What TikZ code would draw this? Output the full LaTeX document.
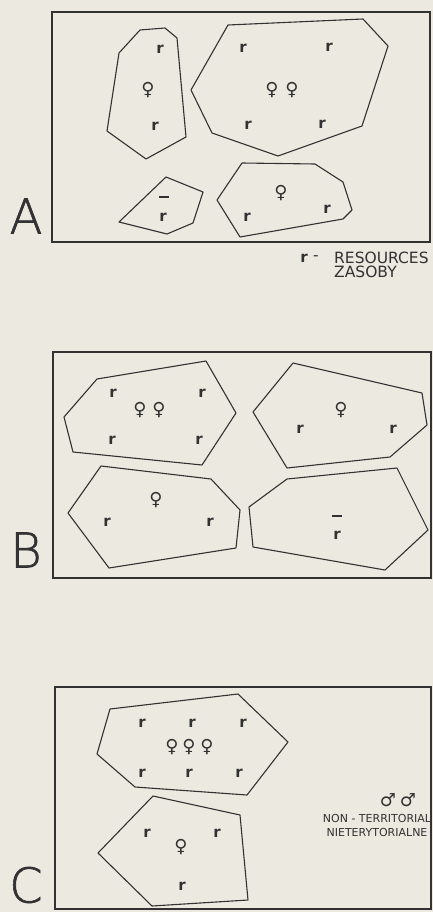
\documentclass[tikz,border=0pt]{standalone}
\usepackage{fontspec}
\setmainfont{DejaVu Sans}
\newfontfamily\tagfont[FakeBold=1.2]{DejaVuSans-ExtraLight.ttf}
\usetikzlibrary{positioning}

\definecolor{paper}{RGB}{236,233,225}
\definecolor{ink}{RGB}{50,50,50}

\tikzset{
	res/.style={font=\fontsize{15}{15}\selectfont\bfseries, text=ink, inner sep=0pt},
	fem/.style={font=\fontsize{18}{18}\selectfont, text=ink, inner sep=0pt},
	zone/.style={draw=ink, line width=1.1pt, line join=round},
	panel/.style={draw=ink, line width=2pt},
	bar/.style={draw=ink, line width=1.8pt},
	tag/.style={font=\tagfont\fontsize{48}{48}\selectfont, text=ink, inner sep=0pt},
	legend/.style={font=\fontsize{15.5}{15.5}\selectfont, text=ink, inner sep=0pt},
	small/.style={font=\fontsize{11}{11}\selectfont, text=ink, inner sep=0pt},
}

\begin{document}
\begin{tikzpicture}[x=1pt, y=-1pt]

	\fill[paper] (0,0) rectangle (433,912);
	\useasboundingbox (0,0) rectangle (433,912);

	% panel A
	\draw[panel] (52,12) rectangle (430,242);
	\node[tag] (A) at (26,216) {A};
	\draw[zone] (140,30) -- (165,28) -- (177,38) -- (186,137) -- (146,159) -- (107,131) -- (119,53) -- cycle;
	\draw[zone] (228,25) -- (363,19) -- (388,46) -- (362,126) -- (278,156) -- (212,133) -- (191,90) -- cycle;
	\draw[zone] (166,177) -- (203,192) -- (193,223) -- (167,234) -- (119,222) -- cycle;
	\draw[zone] (242,163) -- (315,164) -- (343,182) -- (352,210) -- (343,219) -- (240,237) -- (217,200) -- cycle;

	\node[res] (rA1) at (160,49) {r};
	\node[fem] (fA1) at (148,90) {♀};
	\node[res] (rA2) at (155,126) {r};
	\node[res] (rA3) at (243,48) {r};
	\node[res] (rA4) at (329,47) {r};
	\node[fem] (fA2) at (272,90) {♀};
	\node[fem, right=20pt of fA2.center, anchor=center] (fA3) {♀};
	\node[res] (rA5) at (248,125) {r};
	\node[res] (rA6) at (322,124) {r};
	\draw[bar] (159,197) -- (169,197);
	\node[res] (rA7) at (163,217) {r};
	\node[fem] (fA4) at (281,193) {♀};
	\node[res] (rA8) at (247,217) {r};
	\node[res] (rA9) at (327,209) {r};

	% legend
	\node[res] (key) at (304,258) {r};
	\node[legend] (dash) at (316,258) {-};
	\node[legend, anchor=west] (resources) at (334,258) {RESOURCES};
	\node[legend, below=8pt of resources.west, anchor=north west] (zasoby) {ZASOBY};

	% panel B
	\draw[panel] (53,352) rectangle (431,578);
	\node[tag] (B) at (26,550) {B};
	\draw[zone] (97,379) -- (206,361) -- (236,413) -- (202,465) -- (73,452) -- (64,417) -- cycle;
	\draw[zone] (293,363) -- (422,393) -- (427,425) -- (390,457) -- (287,468) -- (253,412) -- cycle;
	\draw[zone] (101,466) -- (211,479) -- (240,510) -- (236,548) -- (109,568) -- (68,513) -- cycle;
	\draw[zone] (287,479) -- (397,468) -- (428,530) -- (385,570) -- (253,547) -- (249,507) -- cycle;

	\node[res] (rB1) at (113,393) {r};
	\node[res] (rB2) at (202,393) {r};
	\node[res] (rB3) at (112,440) {r};
	\node[res] (rB4) at (199,440) {r};
	\node[fem] (fB1) at (140,410) {♀};
	\node[fem, right=19pt of fB1.center, anchor=center] (fB2) {♀};
	\node[fem] (fB3) at (341,410) {♀};
	\node[res] (rB5) at (300,429) {r};
	\node[res] (rB6) at (393,429) {r};
	\node[fem] (fB4) at (156,500) {♀};
	\node[res] (rB7) at (107,522) {r};
	\node[res] (rB8) at (210,522) {r};
	\draw[bar] (332,516) -- (342,516);
	\node[res] (rB9) at (337,535) {r};

	% panel C
	\draw[panel] (55,687) rectangle (431,909);
	\node[tag] (C) at (26,885) {C};
	\draw[zone] (110,709) -- (238,694) -- (288,742) -- (247,795) -- (135,787) -- (97,754) -- cycle;
	\draw[zone] (153,796) -- (240,815) -- (248,900) -- (152,906) -- (98,853) -- cycle;

	\node[res] (rC1) at (142,723) {r};
	\node[res] (rC2) at (192,723) {r};
	\node[res] (rC3) at (243,723) {r};
	\node[res] (rC4) at (142,773) {r};
	\node[res] (rC5) at (189,773) {r};
	\node[res] (rC6) at (239,773) {r};
	\node[fem] (fC1) at (172,747) {♀};
	\node[fem] (fC2) at (189,747) {♀};
	\node[fem] (fC3) at (207,747) {♀};
	\node[res] (rC7) at (147,833) {r};
	\node[res] (rC8) at (217,833) {r};
	\node[fem] (fC4) at (181,847) {♀};
	\node[res] (rC9) at (182,886) {r};

	\node[fem] (mC1) at (388,800) {♂};
	\node[fem] (mC2) at (408,800) {♂};
	\node[small] (nonterr) at (377,818) {NON - TERRITORIAL};
	\node[small, below=14pt of nonterr.center, anchor=center] (nieter) {NIETERYTORIALNE};

\end{tikzpicture}
\end{document}
